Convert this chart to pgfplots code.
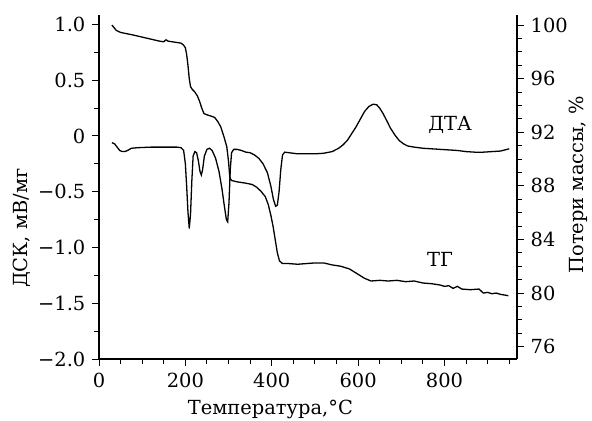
\documentclass[border=0pt]{standalone}
\usepackage{pgfplots}
\pgfplotsset{compat=1.18}
\usepackage{fontspec}
\setmainfont{DejaVu Serif}
\begin{document}
\fontsize{19.5}{23}\selectfont
\begin{tikzpicture}
\useasboundingbox (-99bp,-62bp) rectangle (493bp,359bp);
\pgfplotsset{
  every axis/.append style={
    scale only axis, width=418bp, height=344bp,
    xmin=0, xmax=968,
    axis line style={line width=1.2pt},
    tick style={line width=1pt, black},
    tick align=outside,
    major tick length=7bp, minor tick length=5bp,
    /pgf/number format/assume math mode=true,
    tick label style={font=\fontsize{19.5}{23}\selectfont},
    label style={font=\fontsize{19.5}{23}\selectfont},
  }
}
\begin{axis}[
  axis x line*=bottom, axis y line*=left,
  ymin=-2.0, ymax=1.085,
  xtick={0,200,400,600,800},
  minor xtick={50,100,150,250,300,350,450,500,550,650,700,750,850,900,950},
  ytick={-2,-1.5,-1,-0.5,0,0.5,1},
  yticklabels={−2.0,−1.5,−1.0,−0.5,0,0.5,1.0},
  minor ytick={-1.75,-1.25,-0.75,-0.25,0.25,0.75},
  xlabel={Температура,°C},
  ylabel={ДСК, мВ/мг},
  xlabel style={at={(axis description cs:0.41,-0.148)}, anchor=center},
  ylabel style={at={(axis description cs:-0.184,0.38)}, anchor=center, rotate=0},
]
\addplot[black, line width=1.3pt] coordinates {
(30,-0.06) (36,-0.07) (42,-0.10) (48,-0.13) (54,-0.14) (60,-0.14) (66,-0.13) (75,-0.11)
(90,-0.105) (120,-0.10) (150,-0.10) (180,-0.10) (190,-0.105) (196,-0.13) (200,-0.25)
(203,-0.45) (206,-0.68) (209,-0.83) (212,-0.70) (215,-0.40) (218,-0.18) (222,-0.14)
(226,-0.15) (230,-0.22) (234,-0.32) (237,-0.35) (240,-0.30) (244,-0.18) (250,-0.12)
(256,-0.11) (262,-0.13) (270,-0.20) (278,-0.32) (285,-0.48) (290,-0.62) (295,-0.75)
(298,-0.77) (301,-0.60) (304,-0.30) (307,-0.15) (312,-0.12) (320,-0.12) (330,-0.13)
(340,-0.145) (350,-0.15) (360,-0.17) (370,-0.20) (380,-0.25) (390,-0.33) (398,-0.45)
(404,-0.57) (409,-0.63) (413,-0.62) (417,-0.50) (421,-0.30) (425,-0.17) (430,-0.145)
(440,-0.15) (460,-0.16) (480,-0.16) (500,-0.16) (520,-0.155) (540,-0.14) (555,-0.11)
(565,-0.08) (575,-0.04) (585,0.02) (595,0.08) (605,0.15) (615,0.22) (625,0.265)
(635,0.285) (643,0.28) (650,0.25) (658,0.20) (666,0.14) (675,0.07) (685,0.01)
(695,-0.04) (705,-0.07) (715,-0.09) (730,-0.10) (750,-0.11) (770,-0.115) (790,-0.12)
(810,-0.125) (830,-0.13) (850,-0.14) (870,-0.145) (890,-0.145) (910,-0.14) (930,-0.135)
(945,-0.12) (950,-0.115)
};
\node at (axis cs:813,0.10) {ДТА};
\node at (axis cs:790,-1.11) {ТГ};
\end{axis}
\begin{axis}[
  axis x line=none, axis y line*=right,
  ymin=75.08, ymax=100.75,
  ytick={76,80,84,88,92,96,100},
  minor ytick={77,78,79,81,82,83,85,86,87,89,90,91,93,94,95,97,98,99},
  ylabel={Потери массы, \%},
  ylabel style={at={(axis description cs:1.146,0.506)}, anchor=center},
]
\addplot[black, line width=1.3pt] coordinates {
(30,100.0) (35,99.8) (40,99.6) (50,99.45) (65,99.35) (80,99.25) (100,99.1) (120,98.95)
(140,98.8) (150,98.75) (155,98.9) (160,98.8) (170,98.75) (180,98.7) (190,98.65)
(196,98.5) (200,98.3) (203,97.8) (206,97.0) (209,96.0) (212,95.4) (216,95.2) (222,95.0)
(228,94.7) (233,94.3) (238,93.8) (243,93.4) (250,93.3) (260,93.2) (268,93.1) (275,92.8)
(282,92.4) (290,91.6) (296,90.9) (300,89.8) (303,88.6) (307,88.4) (320,88.3) (340,88.2)
(355,88.1) (365,87.9) (375,87.6) (385,87.2) (392,86.6) (398,85.8) (403,85.0) (408,84.0)
(413,83.0) (418,82.4) (425,82.2) (440,82.2) (460,82.15) (480,82.2) (500,82.25)
(520,82.25) (540,82.1) (560,82.0) (580,81.8) (600,81.4) (615,81.1) (630,80.9)
(650,80.95) (670,80.9) (690,80.95) (710,80.85) (730,80.9) (750,80.75) (770,80.7)
(790,80.6) (800,80.5) (810,80.55) (820,80.35) (830,80.5) (840,80.3) (860,80.25)
(880,80.3) (890,80.0) (900,80.05) (910,79.95) (920,80.0) (930,79.9) (940,79.85) (948,79.8)
};
\end{axis}
\end{tikzpicture}
\end{document}
